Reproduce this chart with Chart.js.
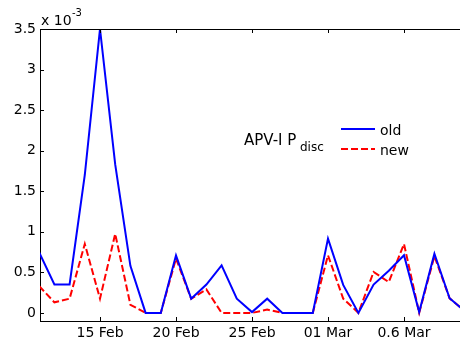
<!DOCTYPE html>
<html>
<head>
<meta charset="UTF-8">
<title>APV-I Pdisc</title>
<script src="https://cdn.jsdelivr.net/npm/chart.js"></script>
<style>
  html, body { margin: 0; padding: 0; background: #fff; overflow: hidden; width: 460px; height: 345px; }
  #grafico { display: block; }
</style>
</head>
<body>
<canvas id="grafico" width="480" height="345"></canvas>
<script>
// dias contados a partir de 15 Feb (11 Feb ... 10 Mar)
var dias = [-4, -3, -2, -1, 0, 1, 2, 3, 4, 5, 6, 7, 8, 9, 10, 11, 12, 13, 14, 15, 16, 17, 18, 19, 20, 21, 22, 23, 24];
// valores em unidades de 10^-3
var valoresOld = [0.745, 0.35, 0.35, 1.70, 3.50, 1.83, 0.58, 0, 0, 0.71, 0.175, 0.35, 0.585, 0.175, 0.01, 0.175, 0, 0, 0, 0.915, 0.345, 0, 0.35, 0.52, 0.71, 0.01, 0.73, 0.18, 0.02];
var valoresNew = [0.33, 0.13, 0.175, 0.85, 0.175, 0.975, 0.10, 0, 0, 0.67, 0.175, 0.29, 0, 0, 0, 0.04, 0, 0, 0, 0.71, 0.175, 0, 0.505, 0.38, 0.85, 0, 0.70, 0.18, 0.02];
var posTicksX = [0, 5, 10, 15, 20];
var rotulosX = ['15 Feb', '20 Feb', '25 Feb', '01 Mar', '0.6 Mar'];
var ticksY = [0, 0.5, 1, 1.5, 2, 2.5, 3, 3.5];

var fonte = 'DejaVu Sans';

function pontos(vals) {
    return dias.map(function (d, i) { return { x: d, y: vals[i] }; });
}

// moldura, marcas internas dos eixos, expoente e legenda no estilo MATLAB
var extras = {
    id: 'extras',
    afterDraw: function (chart) {
        var ctx = chart.ctx, a = chart.chartArea, sx = chart.scales.x, sy = chart.scales.y;
        ctx.save();
        ctx.strokeStyle = '#000';
        ctx.lineWidth = 1;
        ctx.beginPath();
        ctx.moveTo(a.left, Math.round(a.top) + 0.5);
        ctx.lineTo(a.right, Math.round(a.top) + 0.5);
        posTicksX.forEach(function (v) {
            var px = Math.round(sx.getPixelForValue(v)) + 0.5;
            ctx.moveTo(px, a.bottom); ctx.lineTo(px, a.bottom - 4);
            ctx.moveTo(px, a.top); ctx.lineTo(px, a.top + 4);
        });
        ticksY.forEach(function (v) {
            var py = Math.round(sy.getPixelForValue(v)) + 0.5;
            ctx.moveTo(a.left, py); ctx.lineTo(a.left + 4, py);
        });
        ctx.stroke();

        ctx.fillStyle = '#000';
        ctx.textBaseline = 'alphabetic';
        ctx.textAlign = 'left';
        // x 10^-3
        ctx.font = '14px "' + fonte + '"';
        ctx.fillText('x 10', 41, 25);
        ctx.font = '10px "' + fonte + '"';
        ctx.fillText('-3', 72, 16);

        // título da legenda
        ctx.font = '15px "' + fonte + '"';
        ctx.fillText('APV-I P', 244, 145);
        ctx.font = '12px "' + fonte + '"';
        ctx.fillText('disc', 300, 151);

        // entradas da legenda
        ctx.lineWidth = 2;
        ctx.strokeStyle = '#0000ff';
        ctx.beginPath(); ctx.moveTo(341, 129); ctx.lineTo(375, 129); ctx.stroke();
        ctx.strokeStyle = '#ff0000';
        ctx.setLineDash([7, 3]);
        ctx.beginPath(); ctx.moveTo(341, 149); ctx.lineTo(375, 149); ctx.stroke();
        ctx.setLineDash([]);
        ctx.font = '14px "' + fonte + '"';
        ctx.fillText('old', 380, 135);
        ctx.fillText('new', 380, 155);
        ctx.restore();
    }
};

var ctx = document.getElementById('grafico').getContext('2d');
var config = {
    type: 'line',
    data: {
        datasets: [
            {
                label: 'old',
                data: pontos(valoresOld),
                borderColor: '#0000ff',
                borderWidth: 2,
                pointRadius: 0,
                tension: 0
            },
            {
                label: 'new',
                data: pontos(valoresNew),
                borderColor: '#ff0000',
                borderWidth: 2,
                borderDash: [7, 3],
                pointRadius: 0,
                tension: 0
            }
        ]
    },
    options: {
        responsive: false,
        animation: false,
        devicePixelRatio: 1,
        layout: { padding: { top: 29, left: 0, right: 0, bottom: 0 } },
        plugins: { legend: { display: false }, tooltip: { enabled: false } },
        scales: {
            x: {
                type: 'linear',
                min: -3.947,
                max: 25.0,
                afterBuildTicks: function (s) { s.ticks = posTicksX.map(function (v) { return { value: v }; }); },
                afterFit: function (s) { s.height = 24; },
                grid: { display: false, drawTicks: false },
                border: { display: true, color: '#000', width: 1 },
                ticks: {
                    padding: 4,
                    color: '#000',
                    font: { family: fonte, size: 14 },
                    maxRotation: 0,
                    autoSkip: false,
                    callback: function (v) { var i = posTicksX.indexOf(v); return i >= 0 ? rotulosX[i] : ''; }
                }
            },
            y: {
                min: -0.1,
                max: 3.5,
                afterBuildTicks: function (s) { s.ticks = ticksY.map(function (v) { return { value: v }; }); },
                afterFit: function (s) { s.width = 40; },
                grid: { display: false, drawTicks: false },
                border: { display: true, color: '#000', width: 1 },
                ticks: {
                    padding: 4,
                    color: '#000',
                    font: { family: fonte, size: 14 },
                    callback: function (v) { return String(v); }
                }
            }
        }
    },
    plugins: [extras]
};
var grafico = new Chart(ctx, config);
</script>
</body>
</html>
